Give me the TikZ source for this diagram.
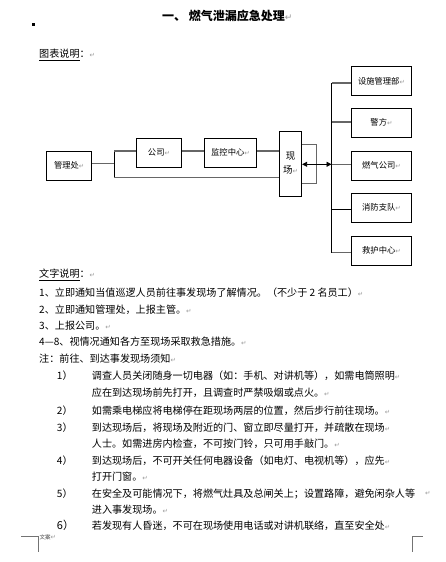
\documentclass[tikz,border=0pt]{standalone}
\usepackage{fontspec}
\setmainfont{Noto Sans CJK SC}
\newfontfamily\djv{DejaVu Sans}
\usetikzlibrary{arrows.meta}
\newcommand{\retm}{{\djv\color{black!40}\fontsize{6.5}{7}\selectfont ↵}}
\tikzset{
  box/.style={draw, line width=0.8pt, inner sep=0pt, font=\fontsize{8.3}{9}\selectfont},
  conn/.style={draw=black!60, line width=1.1pt},
  bus/.style={draw=black, line width=0.7pt},
  txt/.style={anchor=west, inner sep=0pt, font=\fontsize{10.1}{12}\selectfont},
  cropmark/.style={draw=black!55, line width=0.5pt},
}
\begin{document}
\begin{tikzpicture}[x=1pt,y=-1pt]
\useasboundingbox (0,0) rectangle (446,562);
% bullet and title
\fill (31.8,22.5) rectangle (34.8,25.5);
\node[anchor=west, inner sep=0pt, font=\fontsize{12}{14}\selectfont\bfseries] (title) at (162,16) {一、 燃气泄漏应急处理{\djv\color{black!40}\fontsize{9}{9}\selectfont\mdseries ↵}};
\node[txt] (tbsm) at (39,55) {\underline{图表说明}：\retm};
% diagram boxes
\node[box, minimum width=45pt, minimum height=28.5pt] (mgr) at (69.2,165.8) {管理处\retm};
\node[box, minimum width=45.4pt, minimum height=29pt] (gs) at (159,152.8) {公司\retm};
\node[box, minimum width=52.4pt, minimum height=29pt] (jk) at (230.5,152.8) {监控中心\retm};
\node[box, minimum width=22.4pt, minimum height=65pt, font=\fontsize{9.5}{14}\selectfont, align=center] (xc) at (290.5,163.5) {现\\场\retm};
\node[box, minimum width=59.6pt, minimum height=29.5pt] (ss) at (381.5,81) {设施管理部\retm};
\node[box, minimum width=59.6pt, minimum height=29pt] (jf) at (381.5,122.8) {警方\retm};
\node[box, minimum width=59.6pt, minimum height=29pt] (rq) at (381.5,165.8) {燃气公司\retm};
\node[box, minimum width=59.6pt, minimum height=29pt] (xf) at (381.5,207.8) {消防支队\retm};
\node[box, minimum width=59.6pt, minimum height=29pt] (jh) at (381.5,250.8) {救护中心\retm};
% junction coordinates
\coordinate (lt) at (114,151);
\coordinate (lm) at (114,163.7);
\coordinate (lb) at (114,177.3);
\coordinate (bt) at (331.5,83);
\coordinate (b2) at (331.5,122);
\coordinate (bm) at (331.5,164.3);
\coordinate (b4) at (331.5,209.3);
\coordinate (bb) at (331.5,252.7);
\coordinate (lpt) at (316.5,144.3);
\coordinate (lpb) at (316.5,183.3);
% left connectors
\draw[conn] (mgr.east |- lm) -- (lm);
\draw[bus] (lt) -- (lb);
\draw[conn] (lt) -- (gs.west |- lt);
\draw[conn] (gs.east |- lt) -- (jk.west |- lt);
\draw[conn] (jk.east |- lt) -- (xc.west |- lt);
\draw[conn] (lb) -- (xc.west |- lb);
% loop right of site
\draw[conn, line width=0.9pt] (xc.east |- lpt) -- (lpt) -- (lpb) -- (xc.east |- lpb);
% double arrow
\draw[bus, line width=0.8pt, {Triangle[length=5pt,width=5pt]}-{Triangle[length=5pt,width=5pt]}] (xc.east |- bm) -- (bm);
% right bus
\draw[bus] (bt) -- (bb);
\draw[conn] (bt) -- (ss.west |- bt);
\draw[conn] (b2) -- (jf.west |- b2);
\draw[conn] (bm) -- (rq.west |- bm);
\draw[bus, line width=0.9pt] (b4) -- (xf.west |- b4);
\draw[conn] (bb) -- (jh.west |- bb);
% text
\node[txt] (wzsm) at (39,275) {\underline{文字说明}：\retm};
\node[txt] (l1) at (39,292.3) {1、立即通知当值巡逻人员前往事发现场了解情况。（不少于 2 名员工）\retm};
\node[txt] (l2) at (39,309.3) {2、立即通知管理处，上报主管。\retm};
\node[txt] (l3) at (39,326) {3、上报公司。\retm};
\node[txt] (l4) at (39,341.5) {4—8、视情况通知各方至现场采取救急措施。\retm};
\node[txt] (zhu) at (39,358.3) {注：前往、到达事发现场须知\retm};
\node[txt] (n1) at (56.7,375.7) {1）};
\node[txt] (t1) at (91.7,375.7) {调查人员关闭随身一切电器（如：手机、对讲机等），如需电筒照明\retm};
\node[txt] (t1b) at (91.7,392.7) {应在到达现场前先打开，且调查时严禁吸烟或点火。\retm};
\node[txt] (n2) at (56.7,410.3) {2）};
\node[txt] (t2) at (91.7,410.3) {如需乘电梯应将电梯停在距现场两层的位置，然后步行前往现场。\retm};
\node[txt] (n3) at (56.7,427.3) {3）};
\node[txt] (t3) at (91.7,427.3) {到达现场后，将现场及附近的门、窗立即尽量打开，并疏散在现场\retm};
\node[txt] (t3b) at (91.7,443.3) {人士。如需进房内检查，不可按门铃，只可用手敲门。\retm};
\node[txt] (n4) at (56.7,460.3) {4）};
\node[txt] (t4) at (91.7,460.3) {到达现场后，不可开关任何电器设备（如电灯、电视机等），应先\retm};
\node[txt] (t4b) at (91.7,476.7) {打开门窗。\retm};
\node[txt] (n5) at (56.7,493.7) {5）};
\node[txt] (t5) at (91.7,493.7) {在安全及可能情况下，将燃气灶具及总闸关上；设置路障，避免闲杂人等};
\node[anchor=west, inner sep=0pt] (r5) at (425,493.7) {\retm};
\node[txt] (t5b) at (91.7,509.3) {进入事发现场。\retm};
\node[txt, font=\fontsize{11}{12}\selectfont] (n6) at (56.7,525.3) {6）};
\node[txt] (t6) at (91.7,525.3) {若发现有人昏迷，不可在现场使用电话或对讲机联络，直至安全处\retm};
% footer crop marks
\draw[cropmark] (21,536.7) -- (38,536.7) -- (38,551.7);
\draw[cropmark] (422.7,536.7) -- (412,536.7) -- (412,551.7);
\node[anchor=west, inner sep=0pt, font=\fontsize{5.5}{6}\selectfont, text=black!75] (wa) at (39.5,537.5) {文案\retm};
\end{tikzpicture}
\end{document}
